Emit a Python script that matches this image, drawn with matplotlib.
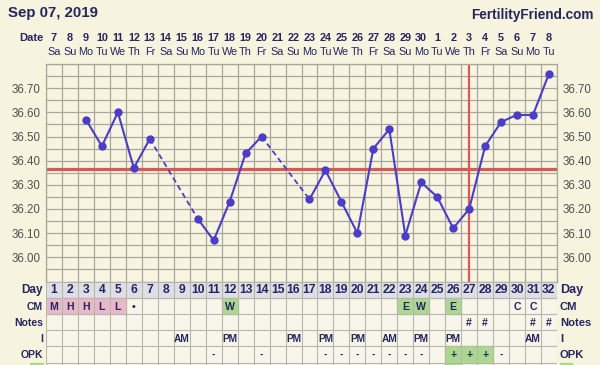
import matplotlib
matplotlib.use('Agg')
import matplotlib.pyplot as plt
import numpy as np
from matplotlib.transforms import blended_transform_factory as btf
from matplotlib.patches import Rectangle

# ---------------- data ----------------
title = "Sep 07, 2019"
site = "FertilityFriend.com"
cycle_days = list(range(1, 33))
date_nums = [7, 8, 9, 10, 11, 12, 13, 14, 15, 16, 17, 18, 19, 20, 21, 22,
             23, 24, 25, 26, 27, 28, 29, 30, 1, 2, 3, 4, 5, 6, 7, 8]
weekdays = ['Sa', 'Su', 'Mo', 'Tu', 'We', 'Th', 'Fr'] * 4 + ['Sa', 'Su', 'Mo', 'Tu']

temp_days = [3, 4, 5, 6, 7, 10, 11, 12, 13, 14, 17, 18, 19, 20, 21, 22,
             23, 24, 25, 26, 27, 28, 29, 30, 31, 32]
temps = [36.57, 36.46, 36.60, 36.37, 36.49, 36.16, 36.07, 36.23, 36.43, 36.50,
         36.24, 36.36, 36.23, 36.10, 36.45, 36.53, 36.09, 36.31, 36.25, 36.12,
         36.20, 36.46, 36.56, 36.59, 36.59, 36.76]
coverline = 36.365
ovulation_day = 27
ytick_vals = [36.00, 36.10, 36.20, 36.30, 36.40, 36.50, 36.60, 36.70]

row_labels = ['Day', 'CM', 'Notes', 'I', 'OPK']
cm_days = [1, 2, 3, 4, 5, 6, 12, 23, 24, 26, 30, 31]
cm_vals = ['M', 'H', 'H', 'L', 'L', '•', 'W', 'E', 'W', 'E', 'C', 'C']
cm_kind = ['p', 'p', 'p', 'p', 'p', '', 'g', 'g', 'g', 'g', '', '']
notes_days = [27, 28, 31, 32]
notes_vals = ['#', '#', '#', '#']
i_days = [9, 12, 16, 18, 20, 22, 24, 26, 31]
i_vals = ['AM', 'PM', 'PM', 'PM', 'PM', 'AM', 'PM', 'PM', 'AM']
opk_days = [11, 14, 18, 19, 20, 21, 22, 23, 24, 26, 27, 28, 29]
opk_vals = ['-', '-', '-', '-', '-', '-', '-', '-', '-', '+', '+', '+', '-']
opk_green = [26, 27, 28]
extra_green_days = [26]

# ---------------- style ----------------
BG = '#f6f3de'
PLOT_BG = '#f7f4e1'
CELL_BG = '#f8f6ea'
GRID = '#a9a799'
NAVY = '#26265f'
TICK = '#505050'
BLUE = '#4a3ec6'
RED = '#d65a55'
PINK = '#e8b9c8'
GREEN = '#aad890'
DAYROW = '#dedee7'
FONT = 'Liberation Sans'
plt.rcParams['font.family'] = [FONT, 'DejaVu Sans']

W, H = 600, 365
fig = plt.figure(figsize=(6, 3.65), dpi=100, facecolor=BG)

# overlay in pixel coordinates
ov = fig.add_axes([0, 0, 1, 1])
ov.set_xlim(0, W)
ov.set_ylim(H, 0)
ov.axis('off')

L, R = 46, 557
TOP, BOT = 64, 281.5
ax = fig.add_axes([L / W, 1 - BOT / H, (R - L) / W, (BOT - TOP) / H])
ax.set_facecolor(PLOT_BG)
ax.set_xlim(0.5, 32.5)
ax.set_ylim(35.90, 36.80)
ax.set_xticks([])
ax.set_xticks(np.arange(0.5, 33, 1), minor=True)
ax.set_yticks(ytick_vals)
ax.set_yticks(np.arange(35.90, 36.801, 0.05), minor=True)
ax.set_yticklabels([f'{v:.2f}' for v in ytick_vals])
ax.tick_params(which='both', length=0)
ax.tick_params(axis='y', labelleft=True, labelright=True, pad=4,
               labelsize=8.3, labelcolor=TICK)
ax.grid(which='both', color=GRID, lw=0.9)
ax.set_axisbelow(True)
for s in ax.spines.values():
    s.set_color(GRID)
    s.set_linewidth(0.9)

ax.axhline(coverline, color=RED, lw=2.3, zorder=2)
ax.axvline(ovulation_day, color=RED, lw=1.6, zorder=2)

# temperature line: solid for consecutive days, dashed across gaps
for i in range(len(temp_days) - 1):
    xs = temp_days[i:i + 2]
    ys = temps[i:i + 2]
    if xs[1] - xs[0] == 1:
        ax.plot(xs, ys, color=BLUE, lw=1.5, zorder=3)
    else:
        ax.plot(xs, ys, color=BLUE, lw=1.3, ls=(0, (3, 2)), zorder=3)
ax.plot(temp_days, temps, 'o', color=BLUE, ms=5, zorder=4)

# header texts
ov.text(8, 13, title, fontsize=10.8, fontweight='bold', color=NAVY,
        ha='left', va='center')
ov.text(594, 15, site, fontsize=9.8, fontweight='bold', color=NAVY,
        ha='right', va='center')
ov.text(43, 38, 'Date', fontsize=8, fontweight='bold', color=NAVY,
        ha='right', va='center')
tr_date = btf(ax.transData, ov.transData)
for d, n, wd in zip(cycle_days, date_nums, weekdays):
    ov.text(d, 38, str(n), transform=tr_date, fontsize=7.8, fontweight='bold',
            color=NAVY, ha='center', va='center')
    ov.text(d, 52, wd, transform=tr_date, fontsize=7.8, color=NAVY,
            ha='center', va='center')

# ---------------- table ----------------
TB_BOT = 378.7
tb = fig.add_axes([L / W, 1 - TB_BOT / H, (R - L) / W, (TB_BOT - BOT) / H])
tb.set_facecolor(CELL_BG)
tb.set_xlim(0.5, 32.5)
tb.set_ylim(6, 0)
tb.set_xticks([])
tb.set_yticks([])
tb.set_xticks(np.arange(0.5, 33, 1), minor=True)
tb.set_yticks(np.arange(0, 7, 1), minor=True)
tb.tick_params(which='both', length=0, labelbottom=False, labelleft=False)
tb.grid(which='minor', color='#b9b7aa', lw=0.8)
tb.set_axisbelow(True)
for s in tb.spines.values():
    s.set_visible(False)

tb.add_patch(Rectangle((0.5, 0), 32, 1, color=DAYROW, zorder=0.5))
for d in cycle_days:
    tb.text(d, 0.55, str(d), fontsize=8.7, fontweight='bold', color=NAVY,
            ha='center', va='center')
for d, v, k in zip(cm_days, cm_vals, cm_kind):
    if k:
        tb.add_patch(Rectangle((d - 0.5, 1), 1, 1,
                               color=PINK if k == 'p' else GREEN, zorder=0.5))
    tb.text(d, 1.55, v, fontsize=7.6, fontweight='bold', color=NAVY,
            ha='center', va='center')
for d, v in zip(notes_days, notes_vals):
    tb.text(d, 2.55, v, fontsize=7.6, fontweight='bold', color=NAVY,
            ha='center', va='center')
for d, v in zip(i_days, i_vals):
    tb.text(d, 3.55, v, fontsize=7.3, fontweight='bold', color=NAVY,
            ha='center', va='center')
for d in opk_green:
    tb.add_patch(Rectangle((d - 0.5, 4), 1, 1, color=GREEN, zorder=0.5))
for d, v in zip(opk_days, opk_vals):
    tb.text(d, 4.55, v, fontsize=7.6, fontweight='bold', color=NAVY,
            ha='center', va='center')
for d in extra_green_days:
    tb.add_patch(Rectangle((d - 0.5, 5), 1, 1, color=GREEN, zorder=0.5))

tr_left = btf(ov.transData, tb.transData)
for r, lab in enumerate(row_labels):
    fs = 8.5 if lab == 'Day' else 7.5
    ov.text(43, r + 0.55, lab, transform=tr_left, fontsize=fs,
            fontweight='bold', color=NAVY, ha='right', va='center')
    ov.text(560, r + 0.55, lab, transform=tr_left, fontsize=fs + 0.6,
            fontweight='bold', color=NAVY, ha='left', va='center')
ov.add_patch(Rectangle((30, 5), 13, 1, transform=tr_left, color=GREEN,
                       clip_on=False))
ov.add_patch(Rectangle((560, 5), 12, 1, transform=tr_left, color=GREEN,
                       clip_on=False))

fig.savefig('out.png', dpi=100, facecolor=BG)
